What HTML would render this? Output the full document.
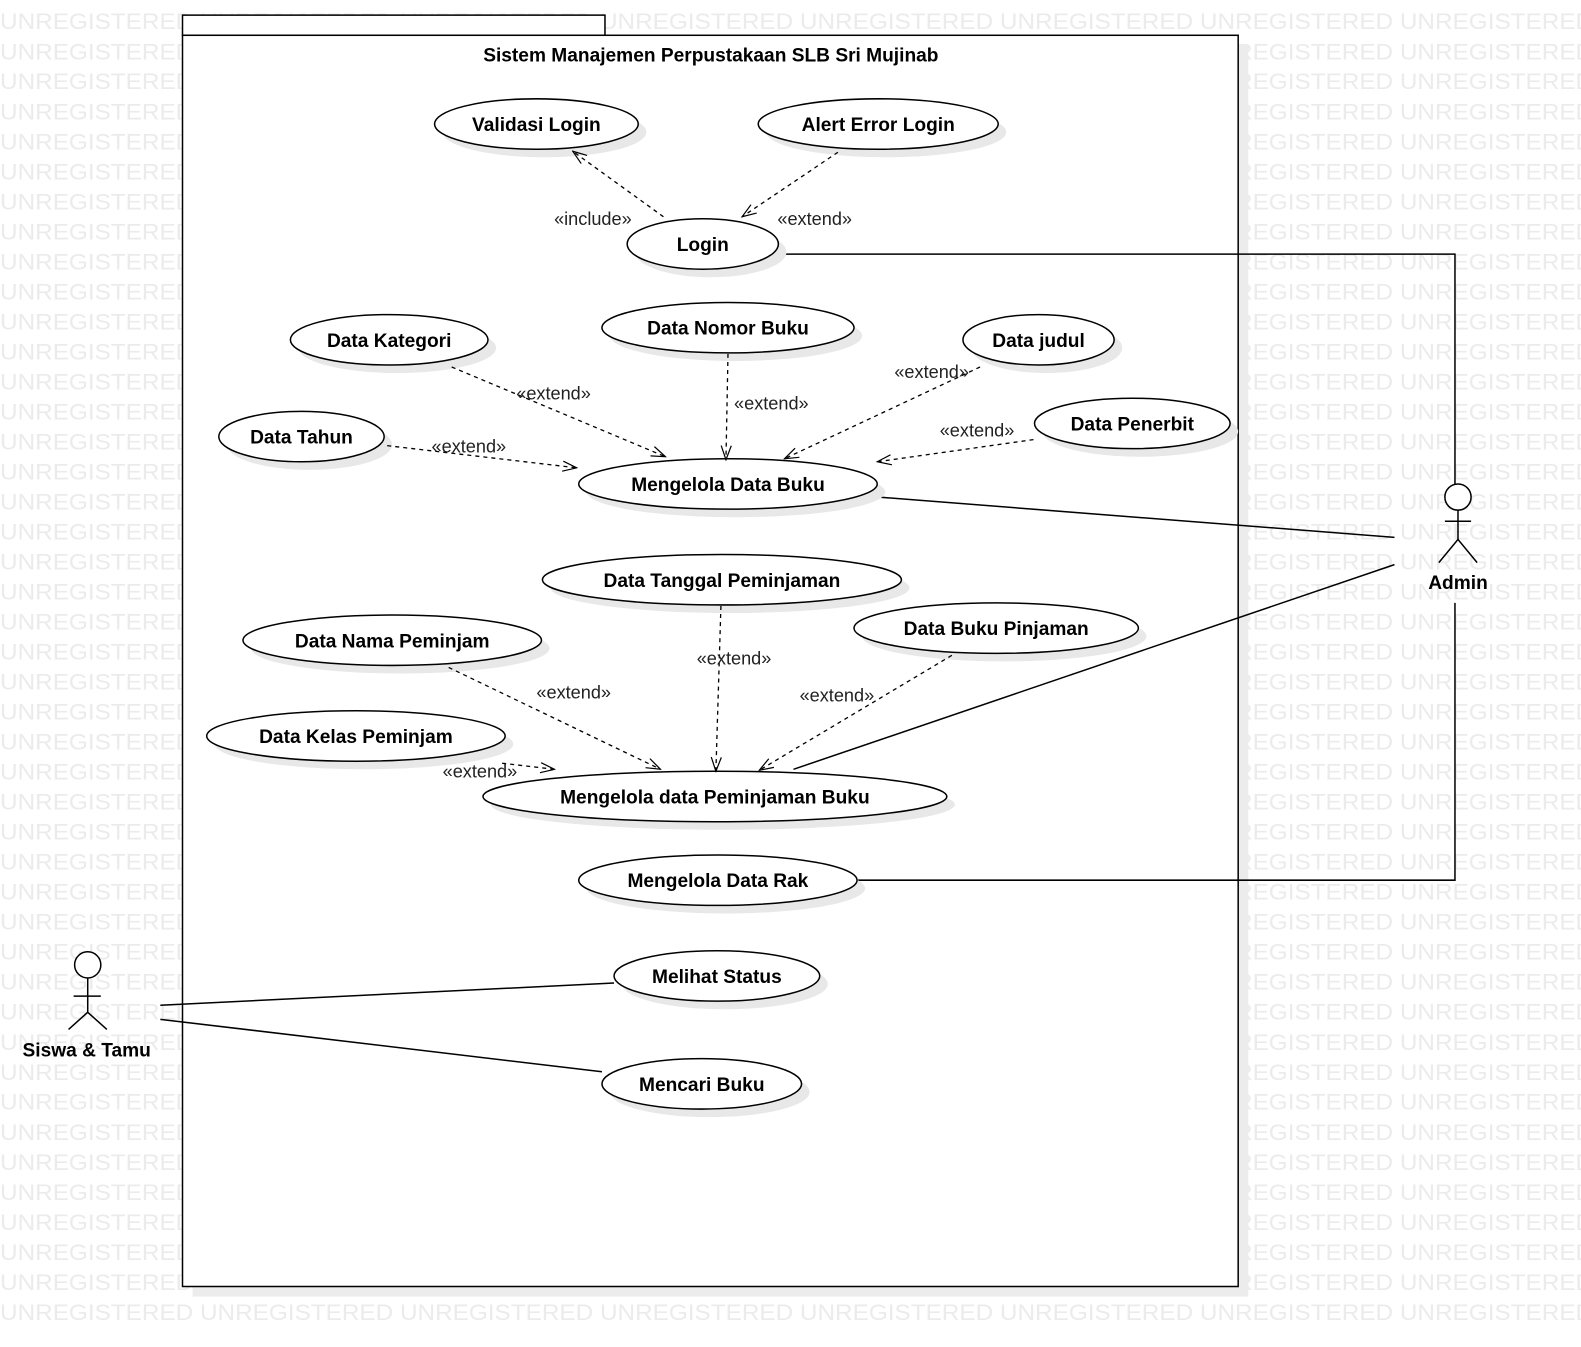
<!DOCTYPE html>
<html><head><meta charset="utf-8"><style>
html,body{margin:0;padding:0;background:#fff;}
svg{display:block;}
.wm{font-family:"Liberation Sans",sans-serif;font-size:22px;fill:#ebebeb;}
.u{font-family:"Liberation Sans",sans-serif;font-size:19px;font-weight:bold;fill:#000;text-anchor:middle;}
.l{font-family:"Liberation Sans",sans-serif;font-size:18px;fill:#222;text-anchor:middle;}
.s{fill:#e8e8e8;}
.e{fill:#fff;stroke:#000;stroke-width:1.5;}
</style></head><body>
<svg width="1581" height="1347" viewBox="0 0 1568 1336" preserveAspectRatio="none" xmlns="http://www.w3.org/2000/svg">
<defs>
<marker id="a" markerWidth="16" markerHeight="12" refX="15" refY="6" orient="auto" markerUnits="userSpaceOnUse">
<path d="M1,1 L15,6 L1,11" fill="none" stroke="#000" stroke-width="1.2"/></marker>
</defs>
<g class="wm" id="wmg"></g>
<script>
(function(){var g=document.getElementById('wmg');var s='';for(var i=0;i<8;i++)s+='UNREGISTERED ';
for(var r=0;r<44;r++){var t=document.createElementNS('http://www.w3.org/2000/svg','text');t.setAttribute('x','0');t.setAttribute('y',(29+r*29.77).toFixed(1));t.setAttribute('textLength','1580');t.setAttribute('lengthAdjust','spacingAndGlyphs');t.textContent=s;g.appendChild(t);}})();
</script>
<rect x="191" y="45" width="1047" height="1241" fill="#ececec"/>
<rect x="181" y="15" width="419" height="20" fill="#fff" stroke="#000" stroke-width="1.5"/>
<rect x="181" y="35" width="1047" height="1241" fill="#fff" stroke="#000" stroke-width="1.5"/>
<text x="705" y="61" class="u" style="font-size:19px">Sistem Manajemen Perpustakaan SLB Sri Mujinab</text>
<g stroke="#000" stroke-width="1.5" fill="none">
<polyline points="772,252 1443,252 1443,480"/>
<line x1="871" y1="493" x2="1383" y2="533"/>
<line x1="787" y1="763" x2="1383" y2="560"/>
<polyline points="851,873 1443,873 1443,598"/>
<line x1="159" y1="997" x2="609" y2="975"/>
<line x1="159" y1="1011" x2="597" y2="1063"/>
</g>
<g class="s">
<ellipse cx="540" cy="131" rx="101" ry="25"/>
<ellipse cx="879" cy="131" rx="119" ry="25"/>
<ellipse cx="705" cy="250" rx="75" ry="25"/>
<ellipse cx="394" cy="345" rx="98" ry="25"/>
<ellipse cx="730" cy="333" rx="125" ry="25"/>
<ellipse cx="1038" cy="345" rx="75" ry="25"/>
<ellipse cx="307" cy="441" rx="82" ry="25"/>
<ellipse cx="1131" cy="428" rx="97" ry="25"/>
<ellipse cx="730" cy="488" rx="148" ry="25"/>
<ellipse cx="724" cy="583" rx="178" ry="25"/>
<ellipse cx="397" cy="643" rx="148" ry="25"/>
<ellipse cx="996" cy="631" rx="141" ry="25"/>
<ellipse cx="361" cy="738" rx="148" ry="25"/>
<ellipse cx="717" cy="798" rx="230" ry="25"/>
<ellipse cx="720" cy="881" rx="138" ry="25"/>
<ellipse cx="719" cy="976" rx="102" ry="25"/>
<ellipse cx="704" cy="1083" rx="99" ry="25"/>
</g>
<g class="e">
<ellipse cx="532" cy="123" rx="101" ry="25"/>
<ellipse cx="871" cy="123" rx="119" ry="25"/>
<ellipse cx="697" cy="242" rx="75" ry="25"/>
<ellipse cx="386" cy="337" rx="98" ry="25"/>
<ellipse cx="722" cy="325" rx="125" ry="25"/>
<ellipse cx="1030" cy="337" rx="75" ry="25"/>
<ellipse cx="299" cy="433" rx="82" ry="25"/>
<ellipse cx="1123" cy="420" rx="97" ry="25"/>
<ellipse cx="722" cy="480" rx="148" ry="25"/>
<ellipse cx="716" cy="575" rx="178" ry="25"/>
<ellipse cx="389" cy="635" rx="148" ry="25"/>
<ellipse cx="988" cy="623" rx="141" ry="25"/>
<ellipse cx="353" cy="730" rx="148" ry="25"/>
<ellipse cx="709" cy="790" rx="230" ry="25"/>
<ellipse cx="712" cy="873" rx="138" ry="25"/>
<ellipse cx="711" cy="968" rx="102" ry="25"/>
<ellipse cx="696" cy="1075" rx="99" ry="25"/>
</g>
<g class="u">
<text x="532" y="130">Validasi Login</text>
<text x="871" y="130">Alert Error Login</text>
<text x="697" y="249">Login</text>
<text x="386" y="344">Data Kategori</text>
<text x="722" y="332">Data Nomor Buku</text>
<text x="1030" y="344">Data judul</text>
<text x="299" y="440">Data Tahun</text>
<text x="1123" y="427">Data Penerbit</text>
<text x="722" y="487">Mengelola Data Buku</text>
<text x="716" y="582">Data Tanggal Peminjaman</text>
<text x="389" y="642">Data Nama Peminjam</text>
<text x="988" y="630">Data Buku Pinjaman</text>
<text x="353" y="737">Data Kelas Peminjam</text>
<text x="709" y="797">Mengelola data Peminjaman Buku</text>
<text x="712" y="880">Mengelola Data Rak</text>
<text x="711" y="975">Melihat Status</text>
<text x="696" y="1082">Mencari Buku</text>
</g>
<g stroke="#000" stroke-width="1.3" stroke-dasharray="4,4" fill="none" marker-end="url(#a)">
<line x1="658" y1="215" x2="568" y2="150"/>
<line x1="831" y1="151" x2="736" y2="215"/>
<line x1="448" y1="364" x2="660" y2="453"/>
<line x1="722" y1="351" x2="720" y2="456"/>
<line x1="972" y1="364" x2="778" y2="455"/>
<line x1="384" y1="442" x2="572" y2="464"/>
<line x1="1025" y1="436" x2="870" y2="458"/>
<line x1="715" y1="601" x2="710" y2="765"/>
<line x1="445" y1="662" x2="655" y2="763"/>
<line x1="944" y1="650" x2="753" y2="764"/>
<line x1="498" y1="757" x2="550" y2="763"/>
</g>
<g class="l">
<text x="588" y="223">«include»</text>
<text x="808" y="223">«extend»</text>
<text x="549" y="396">«extend»</text>
<text x="765" y="406">«extend»</text>
<text x="924" y="375">«extend»</text>
<text x="465" y="449">«extend»</text>
<text x="969" y="433">«extend»</text>
<text x="728" y="659">«extend»</text>
<text x="569" y="693">«extend»</text>
<text x="830" y="696">«extend»</text>
<text x="476" y="771">«extend»</text>
</g>
<g stroke="#000" stroke-width="1.5" fill="#fff">
<circle cx="1446" cy="493" r="13"/>
<line x1="1446" y1="506" x2="1446" y2="535"/><line x1="1433" y1="517" x2="1459" y2="517"/>
<polyline points="1427,558 1446,535 1465,558" fill="none"/>
<circle cx="87" cy="957" r="13"/>
<line x1="87" y1="970" x2="87" y2="1004"/><line x1="73" y1="988" x2="100" y2="988"/>
<polyline points="68,1021 87,1004 106,1021" fill="none"/>
</g>
<text x="1446" y="584" class="u">Admin</text>
<text x="86" y="1048" class="u">Siswa &amp; Tamu</text>
</svg>
</body></html>
